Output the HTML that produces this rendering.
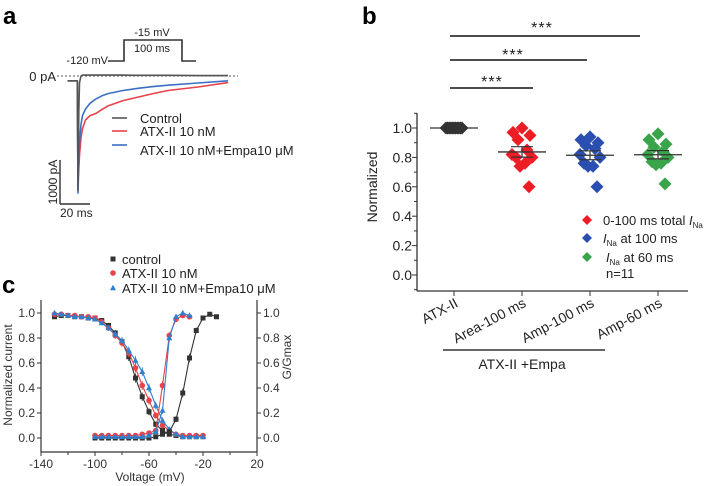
<!DOCTYPE html>
<html><head><meta charset="utf-8">
<style>
html,body{margin:0;padding:0;background:#fff;}
svg{display:block;font-family:"Liberation Sans",Arial,sans-serif;}
</style></head>
<body>
<svg id="fig" width="708" height="486" viewBox="0 0 708 486">
<text x="3" y="24" font-size="24" font-weight="bold">a</text>
<text x="362" y="24" font-size="24" font-weight="bold">b</text>
<text x="2" y="293" font-size="24" font-weight="bold">c</text>

<g stroke="#333" stroke-width="1.6" fill="none">
<polyline points="108,61 124,61 124,40 182,40 182,61 196,61"/>
</g>
<text x="108" y="64" font-size="11" text-anchor="end" fill="#222">-120 mV</text>
<text x="152" y="36" font-size="11" text-anchor="middle" fill="#222">-15 mV</text>
<text x="152" y="52" font-size="11" text-anchor="middle" fill="#222">100 ms</text>
<text x="56" y="81" font-size="13" text-anchor="end" fill="#222">0 pA</text>
<line x1="57" y1="76" x2="238" y2="76" stroke="#555" stroke-width="1" stroke-dasharray="2,2"/>
<g id="traces"></g>
<g stroke="#333" stroke-width="1.4">
<line x1="60" y1="160" x2="60" y2="204"/><line x1="60" y1="204" x2="90" y2="204"/>
</g>
<text transform="translate(57,182) rotate(-90)" font-size="12" text-anchor="middle" fill="#222">1000 pA</text>
<text x="60" y="217" font-size="12" fill="#222">20 ms</text>
<g font-size="13" fill="#222">
<line x1="112" y1="118" x2="127" y2="118" stroke="#555" stroke-width="1.6"/>
<text x="140" y="123">Control</text>
<line x1="112" y1="131" x2="127" y2="131" stroke="#e8424a" stroke-width="1.6"/>
<text x="140" y="136">ATX-II 10 nM</text>
<line x1="112" y1="145" x2="127" y2="145" stroke="#3b6fc4" stroke-width="1.6"/>
<text x="140" y="155">ATX-II 10 nM+Empa10 μM</text>
</g>

<g id="panelb"></g>
<g id="panelc"></g>
</svg>
<script>
// ---------- Panel a data ----------
var traceTime = [-7, -0.5, 0, 0.5, 1, 2, 3, 5, 8, 12, 16, 20, 30, 40, 50, 60, 80, 100];
var traceControl = [-110, -110, -2600, -800, -150, 0, 20, 20, 20, 20, 20, 20, 20, 15, 15, 15, 10, 10];
var traceAtx = [-110, -110, -2400, -2100, -1800, -1400, -1200, -1000, -900, -850, -760, -680, -560, -480, -400, -330, -250, -150];
var traceEmpa = [-110, -110, -2660, -2000, -1500, -1100, -900, -750, -620, -520, -450, -400, -330, -280, -240, -210, -160, -110];

// ---------- Panel b data ----------
var bCategories = ["ATX-II", "Area-100 ms", "Amp-100 ms", "Amp-60 ms"];
var bAtx = [1, 1, 1, 1, 1, 1, 1, 1, 1, 1, 1];
var bArea = [1.0, 0.97, 0.95, 0.92, 0.85, 0.82, 0.80, 0.80, 0.76, 0.74, 0.60];
var bAmp100 = [0.94, 0.92, 0.90, 0.88, 0.86, 0.82, 0.80, 0.76, 0.74, 0.74, 0.60];
var bAmp60 = [0.96, 0.92, 0.89, 0.87, 0.84, 0.82, 0.80, 0.77, 0.76, 0.75, 0.62];
var bTicks = [0.0, 0.2, 0.4, 0.6, 0.8, 1.0];
var bTickLabels = ["0.0", "0.2", "0.4", "0.6", "0.8", "1.0"];

// ---------- Panel c data ----------
var cInactV = [-130,-125,-120,-115,-110,-105,-100,-95,-90,-85,-80,-75,-70,-65,-60,-55,-50,-45,-40,-35,-30,-25,-20];
var cInactControl = [0.97,0.98,0.98,0.97,0.97,0.96,0.96,0.94,0.90,0.84,0.77,0.65,0.48,0.33,0.21,0.11,0.06,0.03,0.02,0.01,0.01,0.01,0.01];
var cInactAtx = [0.99,0.99,0.98,0.98,0.97,0.97,0.96,0.93,0.88,0.82,0.76,0.68,0.56,0.42,0.30,0.18,0.10,0.06,0.03,0.02,0.02,0.02,0.02];
var cInactEmpa = [1.0,0.99,0.98,0.97,0.97,0.96,0.95,0.92,0.88,0.83,0.78,0.70,0.62,0.53,0.40,0.26,0.14,0.07,0.03,0.01,0.01,0.01,0.01];
var cActVControl = [-100,-95,-90,-85,-80,-75,-70,-65,-60,-55,-50,-45,-40,-35,-30,-25,-20,-15,-10];
var cActControl = [0.0,0.0,0.0,0.0,0.0,0.0,0.0,0.0,0.0,0.01,0.03,0.05,0.15,0.36,0.64,0.86,0.96,0.99,0.97];
var cActVDrug = [-100,-95,-90,-85,-80,-75,-70,-65,-60,-55,-50,-45,-40,-35,-30];
var cActAtx = [0.02,0.02,0.02,0.02,0.02,0.02,0.02,0.03,0.04,0.06,0.42,0.82,0.95,0.98,0.97];
var cActEmpa = [0.01,0.01,0.01,0.01,0.01,0.01,0.01,0.01,0.02,0.05,0.22,0.80,0.97,1.0,0.98];
var cXTicks = [-140, -100, -60, -20, 20];
var cYTicks = [0.0, 0.2, 0.4, 0.6, 0.8, 1.0];

var NS = "http://www.w3.org/2000/svg";
function mk(tag, attrs, parent) {
  var e = document.createElementNS(NS, tag);
  for (var k in attrs) e.setAttribute(k, attrs[k]);
  parent.appendChild(e);
  return e;
}

// ---------- Panel a drawing ----------
function ax(t) { return 78 + t * 1.5; }
function ay(pA) { return 76 - pA * 0.044; }
var tg = document.getElementById("traces");
function drawTrace(vals, color, name) {
  var pts = traceTime.map(function (t, i) { return ax(t).toFixed(1) + "," + ay(vals[i]).toFixed(1); }).join(" ");
  var p = mk("polyline", {points: pts, fill: "none", stroke: color, "stroke-width": 1.6, "stroke-linejoin": "round"}, tg);
  
  
}
drawTrace(traceAtx, "#e8424a", "trace-atx");
drawTrace(traceEmpa, "#3b6fc4", "trace-atx-empa");
drawTrace(traceControl, "#555", "trace-control");

// ---------- Panel b drawing ----------
var pb = document.getElementById("panelb");
var bX0 = 417, bCatX = [454, 522, 590, 658];
function by(v) { return 275 - v * 147; }
mk("line", {x1: bX0, y1: 113, x2: bX0, y2: 291, stroke: "#333", "stroke-width": 1.3}, pb);
mk("line", {x1: bX0, y1: 291, x2: 688, y2: 291, stroke: "#333", "stroke-width": 1.3}, pb);
for (var m = -1; m <= 11; m++) {
  var v = m / 10;
  var isMaj = (m >= 0 && m % 2 === 0);
  mk("line", {x1: bX0 - (isMaj ? 5 : 3), y1: by(v), x2: bX0, y2: by(v), stroke: "#333", "stroke-width": 1}, pb);
}
bTicks.forEach(function (v, i) {
  var t = mk("text", {x: bX0 - 5, y: by(v) + 5, "font-size": 14, "text-anchor": "end", fill: "#222"}, pb);
  t.textContent = bTickLabels[i];
  
  
});
var byt = mk("text", {transform: "translate(377,187) rotate(-90)", "font-size": 14, "text-anchor": "middle", fill: "#222"}, pb);
byt.textContent = "Normalized";


bCategories.forEach(function (c, i) {
  mk("line", {x1: bCatX[i], y1: 291, x2: bCatX[i], y2: 296, stroke: "#333", "stroke-width": 1}, pb);
  var t = mk("text", {transform: "translate(" + (bCatX[i] + 5) + ",306) rotate(-28)", "font-size": 14, "text-anchor": "end", fill: "#222"}, pb);
  t.textContent = c;
  
  
});
var jitter = [0, -9, 8, -4, 5, -10, 10, -6, 3, -2, 7];
var bSeries = [bAtx, bArea, bAmp100, bAmp60];
var bColors = ["#333", "#ee1c25", "#2b4fb0", "#3aa44a"];
var bNames = ["atx", "area-100", "amp-100", "amp-60"];
function diamond(cx, cy, r, color, parent) {
  return mk("polygon", {points: cx + "," + (cy - r) + " " + (cx + r) + "," + cy + " " + cx + "," + (cy + r) + " " + (cx - r) + "," + cy, fill: color}, parent);
}
bSeries.forEach(function (s, i) {
  var n = s.length, mean = s.reduce(function (a, b) { return a + b; }, 0) / n;
  var sd = Math.sqrt(s.reduce(function (a, b) { return a + (b - mean) * (b - mean); }, 0) / (n - 1));
  var sem = sd / Math.sqrt(n);
  s.forEach(function (v, j) {
    var jx = i === 0 ? (j - 5) * 1.6 : jitter[j];
    var d = diamond(bCatX[i] + jx, by(v), 6.5, bColors[i], pb);
    
    
  });
  var ml = mk("line", {x1: bCatX[i] - 24, y1: by(mean), x2: bCatX[i] + 24, y2: by(mean), stroke: "#333", "stroke-width": 1.3}, pb);
  
  
  if (sem > 0) {
    mk("line", {x1: bCatX[i], y1: by(mean + sem), x2: bCatX[i], y2: by(mean - sem), stroke: "#333", "stroke-width": 1.2}, pb);
    mk("line", {x1: bCatX[i] - 11, y1: by(mean + sem), x2: bCatX[i] + 11, y2: by(mean + sem), stroke: "#333", "stroke-width": 1.2}, pb);
    mk("line", {x1: bCatX[i] - 11, y1: by(mean - sem), x2: bCatX[i] + 11, y2: by(mean - sem), stroke: "#333", "stroke-width": 1.2}, pb);
  }
});
[[533, 88, 492, 81], [587, 60, 513, 54], [640, 36, 542, 27]].forEach(function (s) {
  var l = mk("line", {x1: 450, y1: s[1], x2: s[0], y2: s[1], stroke: "#111", "stroke-width": 1.6}, pb);
  
  
  var t = mk("text", {x: s[2], y: s[3] + 6, "font-size": 16, "text-anchor": "middle", fill: "#222", "letter-spacing": "1"}, pb);
  t.textContent = "***";
  
  
});
mk("line", {x1: 443, y1: 350, x2: 605, y2: 350, stroke: "#333", "stroke-width": 1.5}, pb);
var gl = mk("text", {x: 522, y: 369, "font-size": 14, "text-anchor": "middle", fill: "#222"}, pb);
gl.textContent = "ATX-II +Empa";


var lgb = mk("g", {"font-size": 13, fill: "#222"}, pb);


diamond(587, 220, 5, "#ee1c25", lgb);
diamond(587, 238, 5, "#2b4fb0", lgb);
diamond(587, 257, 5, "#3aa44a", lgb);
var lt1 = mk("text", {x: 603, y: 225}, lgb); lt1.innerHTML = '0-100 ms total <tspan font-style="italic">I</tspan><tspan font-size="8" dy="3">Na</tspan>';
var lt2 = mk("text", {x: 603, y: 243}, lgb); lt2.innerHTML = '<tspan font-style="italic">I</tspan><tspan font-size="8" dy="3">Na</tspan><tspan dy="-3"> at 100 ms</tspan>';
var lt3 = mk("text", {x: 606, y: 262}, lgb); lt3.innerHTML = '<tspan font-style="italic">I</tspan><tspan font-size="8" dy="3">Na</tspan><tspan dy="-3"> at 60 ms</tspan>';
var lt4 = mk("text", {x: 606, y: 278}, lgb); lt4.textContent = "n=11";

// ---------- Panel c drawing ----------
var pc = document.getElementById("panelc");
function cx(v) { return 41 + (v + 140) * 1.35; }
function cy(v) { return 438 - v * 125; }
mk("line", {x1: 41, y1: 300, x2: 41, y2: 452, stroke: "#333", "stroke-width": 1.2}, pc);
mk("line", {x1: 257, y1: 300, x2: 257, y2: 452, stroke: "#333", "stroke-width": 1.2}, pc);
mk("line", {x1: 41, y1: 452, x2: 257, y2: 452, stroke: "#333", "stroke-width": 1.2}, pc);
cXTicks.forEach(function (v) {
  mk("line", {x1: cx(v), y1: 452, x2: cx(v), y2: 456, stroke: "#333", "stroke-width": 1}, pc);
  var t = mk("text", {x: cx(v), y: 468, "font-size": 12, "text-anchor": "middle", fill: "#333"}, pc);
  t.textContent = v;
  
  
});
[-120, -80, -40, 0].forEach(function (v) {
  mk("line", {x1: cx(v), y1: 452, x2: cx(v), y2: 455, stroke: "#333", "stroke-width": 1}, pc);
});
cYTicks.forEach(function (v) {
  mk("line", {x1: 37, y1: cy(v), x2: 41, y2: cy(v), stroke: "#333", "stroke-width": 1}, pc);
  mk("line", {x1: 257, y1: cy(v), x2: 261, y2: cy(v), stroke: "#333", "stroke-width": 1}, pc);
  var t = mk("text", {x: 35, y: cy(v) + 4, "font-size": 12, "text-anchor": "end", fill: "#333"}, pc);
  t.textContent = v.toFixed(1);
  
  
  var t2 = mk("text", {x: 263, y: cy(v) + 4, "font-size": 12, fill: "#333"}, pc);
  t2.textContent = v.toFixed(1);
  
  
});
var ct1 = mk("text", {transform: "translate(12,375) rotate(-90)", "font-size": 12, "text-anchor": "middle", fill: "#333"}, pc);
ct1.textContent = "Normalized current";


var ct2 = mk("text", {transform: "translate(291,357) rotate(-90)", "font-size": 12, "text-anchor": "middle", fill: "#333"}, pc);
ct2.textContent = "G/Gmax";


var ct3 = mk("text", {x: 150, y: 481, "font-size": 12, "text-anchor": "middle", fill: "#333"}, pc);
ct3.textContent = "Voltage (mV)";



function marker(type, x, y, color, parent) {
  if (type === "sq") return mk("rect", {x: x - 2.5, y: y - 2.5, width: 5, height: 5, fill: color}, parent);
  if (type === "ci") return mk("circle", {cx: x, cy: y, r: 2.8, fill: color}, parent);
  return mk("polygon", {points: x + "," + (y - 3.2) + " " + (x + 3) + "," + (y + 2.3) + " " + (x - 3) + "," + (y + 2.3), fill: color}, parent);
}
function drawCSeries(vs, vals, color, type, name) {
  var g = mk("g", {}, pc);
  
  
  var pts = vs.map(function (v, i) { return cx(v).toFixed(1) + "," + cy(vals[i]).toFixed(1); }).join(" ");
  mk("polyline", {points: pts, fill: "none", stroke: color, "stroke-width": 1.1}, g);
  vs.forEach(function (v, i) {
    var e = 0.012 + 0.03 * vals[i] * (1 - vals[i]) * 4 * 0.8;
    mk("line", {x1: cx(v), y1: cy(vals[i] + e), x2: cx(v), y2: cy(vals[i] - e), stroke: color, "stroke-width": 0.9}, g);
    marker(type, cx(v), cy(vals[i]), color, g);
  });
}
drawCSeries(cInactV, cInactControl, "#333", "sq", "inactivation-control");
drawCSeries(cInactV, cInactAtx, "#e8424a", "ci", "inactivation-atx");
drawCSeries(cInactV, cInactEmpa, "#2f7fd0", "tr", "inactivation-empa");
drawCSeries(cActVControl, cActControl, "#333", "sq", "activation-control");
drawCSeries(cActVDrug, cActAtx, "#e8424a", "ci", "activation-atx");
drawCSeries(cActVDrug, cActEmpa, "#2f7fd0", "tr", "activation-empa");

var lgc = mk("g", {"font-size": 13, fill: "#222"}, pc);


marker("sq", 113, 259, "#333", lgc);
marker("ci", 113, 273, "#e8424a", lgc);
marker("tr", 113, 288, "#2f7fd0", lgc);
var l1 = mk("text", {x: 122, y: 264}, lgc); l1.textContent = "control";
var l2 = mk("text", {x: 122, y: 278}, lgc); l2.textContent = "ATX-II 10 nM";
var l3 = mk("text", {x: 122, y: 293}, lgc); l3.textContent = "ATX-II 10 nM+Empa10 μM";
</script>
</body></html>
